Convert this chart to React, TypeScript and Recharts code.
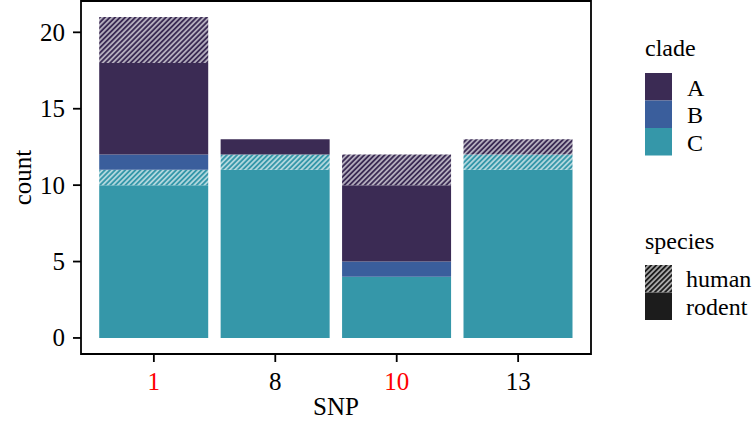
import React from "react";
import { BarChart, Bar, XAxis, YAxis, ReferenceArea } from "recharts";

// SNP positions on the x axis; the red ones are highlighted
const snps = ["1", "8", "10", "13"];
const redSnps = ["1", "10"];

// counts per clade / species, stacked C -> B -> A, rodent below human
const cRodent = [10, 11, 4, 11];
const cHuman = [1, 1, 0, 1];
const bRodent = [1, 0, 1, 0];
const bHuman = [0, 0, 0, 0];
const aRodent = [6, 1, 5, 0];
const aHuman = [3, 0, 2, 1];

const yTicks = [0, 5, 10, 15, 20];
const clades = ["A", "B", "C"];
const speciesNames = ["human", "rodent"];

const cladeColors: Record<string, string> = {
  A: "#3b2b54",
  B: "#3a5e9c",
  C: "#3597a9",
};
const speciesDark = "#1c1c1c";
const FONT = "'Liberation Serif', 'Times New Roman', serif";
const FS = 25;

// discrete positions 1..n, like ggplot's discrete scale
const data = snps.map((snp, i) => ({
  pos: i + 1,
  snp,
  C_rodent: cRodent[i],
  C_human: cHuman[i],
  B_rodent: bRodent[i],
  B_human: bHuman[i],
  A_rodent: aRodent[i],
  A_human: aHuman[i],
}));
const xTicks = snps.map((_, i) => i + 1);

const series = [
  { key: "C_rodent", clade: "C", human: false },
  { key: "C_human", clade: "C", human: true },
  { key: "B_rodent", clade: "B", human: false },
  { key: "B_human", clade: "B", human: true },
  { key: "A_rodent", clade: "A", human: false },
  { key: "A_human", clade: "A", human: true },
];

const Hatch = ({ id, color }: { id: string; color: string }) => (
  <pattern
    id={id}
    patternUnits="userSpaceOnUse"
    width={3.6}
    height={3.6}
    patternTransform="rotate(45)"
  >
    <rect width={3.6} height={3.6} fill={color} />
    <line x1={1.8} y1={0} x2={1.8} y2={3.6} stroke="#ffffff" strokeWidth={1.1} />
  </pattern>
);

const XTick = (props: any) => {
  const { x, y, payload } = props;
  const label = snps[Math.round(payload.value) - 1];
  return (
    <text
      x={x}
      y={y}
      dy={26}
      textAnchor="middle"
      fontFamily={FONT}
      fontSize={FS}
      fill={redSnps.includes(label) ? "#ff0000" : "#000000"}
    >
      {label}
    </text>
  );
};

const YTick = (props: any) => {
  const { x, y, payload } = props;
  return (
    <text x={x - 6} y={y} dy={8.5} textAnchor="end" fontFamily={FONT} fontSize={FS} fill="#000000">
      {payload.value}
    </text>
  );
};

const YLabel = (props: any) => {
  const { viewBox } = props;
  const cx = 31;
  const cy = viewBox.y + viewBox.height / 2;
  return (
    <text
      x={cx}
      y={cy}
      transform={`rotate(-90 ${cx} ${cy})`}
      textAnchor="middle"
      fontFamily={FONT}
      fontSize={FS}
      fill="#000000"
    >
      count
    </text>
  );
};

const XLabel = (props: any) => {
  const { viewBox } = props;
  return (
    <text
      x={viewBox.x + viewBox.width / 2}
      y={415}
      textAnchor="middle"
      fontFamily={FONT}
      fontSize={FS}
      fill="#000000"
    >
      SNP
    </text>
  );
};

const LegendBox = () => (
  <svg width={756} height={431} style={{ position: "absolute", left: 0, top: 0 }}>
    <defs>
      <Hatch id="legend-hatch" color={speciesDark} />
    </defs>
    <text x={645} y={56} fontFamily={FONT} fontSize={24} fill="#000">
      clade
    </text>
    {clades.map((c, i) => (
      <g key={c}>
        <rect x={645} y={73 + i * 27.5} width={27} height={27.5} fill={cladeColors[c]} />
        <text x={687} y={87 + i * 27.5} dy={8.5} fontFamily={FONT} fontSize={24} fill="#000">
          {c}
        </text>
      </g>
    ))}
    <text x={645} y={249} fontFamily={FONT} fontSize={24} fill="#000">
      species
    </text>
    {speciesNames.map((s, i) => (
      <g key={s}>
        <rect
          x={645}
          y={265 + i * 27.5}
          width={27}
          height={27.5}
          fill={s === "human" ? "url(#legend-hatch)" : speciesDark}
        />
        <text x={686} y={279 + i * 27.5} dy={8} fontFamily={FONT} fontSize={24} fill="#000">
          {s}
        </text>
      </g>
    ))}
  </svg>
);

export default function App() {
  return (
    <div style={{ position: "absolute", left: 0, top: 0, width: 756, height: 431, background: "#fff" }}>
      <BarChart
        width={756}
        height={431}
        data={data}
        margin={{ top: 1, right: 165, bottom: 0, left: 0 }}
        barCategoryGap="5%"
      >
        <defs>
          {clades.map((c) => (
            <Hatch key={c} id={`hatch-${c}`} color={cladeColors[c]} />
          ))}
        </defs>
        <XAxis
          dataKey="pos"
          type="number"
          domain={[0.4, 4.6]}
          ticks={xTicks}
          allowDataOverflow
          height={77}
          tickSize={8}
          tick={<XTick />}
          axisLine={false}
          tickLine={{ stroke: "#000", strokeWidth: 1.8 }}
          label={<XLabel />}
        />
        <YAxis
          width={81}
          domain={[-1.05, 22.05]}
          ticks={yTicks}
          allowDataOverflow
          tickSize={8}
          tick={<YTick />}
          axisLine={false}
          tickLine={{ stroke: "#000", strokeWidth: 1.8 }}
          label={<YLabel />}
        />
        {series.map((s) => (
          <Bar
            key={s.key}
            dataKey={s.key}
            stackId="snp"
            fill={s.human ? `url(#hatch-${s.clade})` : cladeColors[s.clade]}
            isAnimationActive={false}
          />
        ))}
        <ReferenceArea
          x1={0.4}
          x2={4.6}
          y1={-1.05}
          y2={22.05}
          fill="none"
          fillOpacity={0}
          stroke="#000"
          strokeWidth={1.8}
        />
      </BarChart>
      <LegendBox />
    </div>
  );
}
